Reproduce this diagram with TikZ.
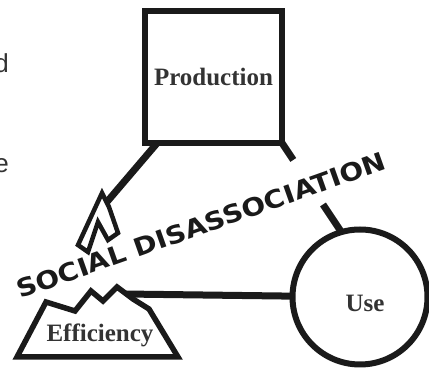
\documentclass[tikz,border=0pt]{standalone}
\usepackage{fontspec}
\setmainfont{Liberation Serif}
\newfontfamily\bannerfont{DejaVu Sans}
\newfontfamily\sidefont{Liberation Sans}
\usetikzlibrary{calc}
\definecolor{ink}{HTML}{1A1A1A}
\definecolor{greytext}{HTML}{333333}

\begin{document}
\begin{tikzpicture}[x=1pt,y=-1pt,
    stage/.style={draw=ink,line width=6pt,inner sep=0pt,outer sep=0pt},
    stagetext/.style={font=\fontsize{25}{30}\selectfont\bfseries,text=greytext,inner sep=0pt},
    sidetext/.style={font=\sidefont\fontsize{26}{30}\selectfont,text=greytext,anchor=base east,inner sep=0pt},
    link/.style={draw=ink,line width=7pt},
    shard/.style={draw=ink,fill=white,line width=4.5pt,line join=miter}]
    \useasboundingbox (0,0) rectangle (429,371);
    % cut-off words at the left edge
    \node[sidetext] (lefta) at (9,73) {d};
    \node[sidetext] (leftb) at (9,173) {e};
    % the three stages
    \node[stage,minimum width=137pt,minimum height=132pt] (prod) at (213.5,77) {};
    \node[stagetext] (prodtext) at (prod) {Production};
    \node[stage,circle,minimum size=135pt] (use) at (360,297) {};
    \node[stagetext] (usetext) at (365,303) {Use};
    % links
    \coordinate (brk) at (106,203);
    \coordinate (effr) at (124,294);
    \draw[link] (prod) -- (brk);
    \draw[link] (effr) -- (use);
    \draw[link] (prod.south east) -- ($(prod.south east)!0.19!(use.106)$);
    \draw[link] ($(prod.south east)!0.69!(use.106)$) -- (use.106);
    % broken arrow head
    \draw[shard] (78,245) -- (102,193) -- (109,207) -- (118,233) -- (108,240) -- (98,222) -- (88,252) -- cycle;
    % efficiency block with torn top
    \draw[shard,line width=5.5pt] (17,357) -- (46,302) -- (75,311) -- (91,291) -- (103,301) -- (117,287)
        -- (133,299) -- (149,309) -- (178,357) -- cycle;
    \node[stagetext,anchor=base] (eff) at (100,342) {Efficiency};
    % banner across the picture
    \node[anchor=base west,inner sep=0pt,rotate=19.5,text=ink] (banner) at (20,299)
        {\resizebox{390pt}{18.5pt}{\bannerfont\bfseries SOCIAL DISASSOCIATION}};
\end{tikzpicture}
\end{document}
